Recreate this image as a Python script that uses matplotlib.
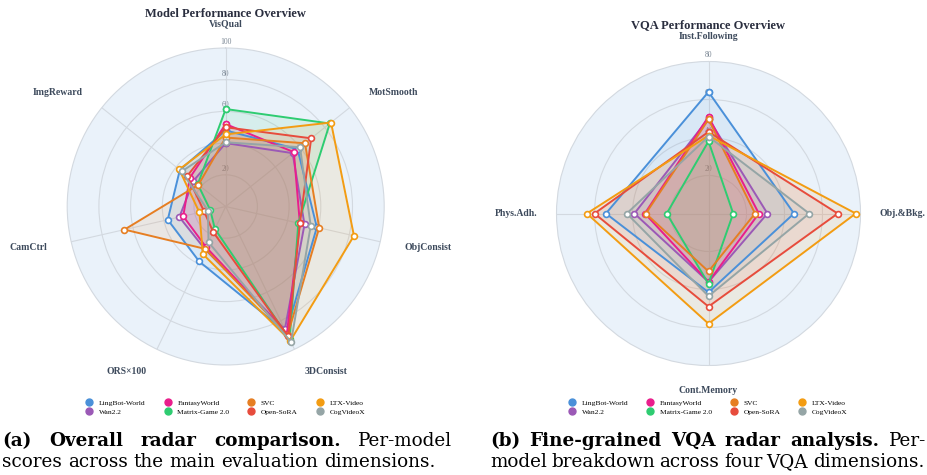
import numpy as np
import matplotlib
matplotlib.use("Agg")
import matplotlib.pyplot as plt
from matplotlib.lines import Line2D

# ---- data ----
models = ["LingBot-World", "Wan2.2", "FantasyWorld", "Matrix-Game 2.0",
          "SVC", "Open-SoRA", "LTX-Video", "CogVideoX"]
colors = ["#4A90D9", "#9B59B6", "#E91E8C", "#2ECC71",
          "#E67E22", "#E74C3C", "#F39C12", "#95A5A6"]

overall_dims = ["VisQual", "MotSmooth", "ObjConsist", "3DConsist",
                "ORS×100", "CamCtrl", "ImgReward"]
lingbot_overall = [48, 58, 59, 88, 38.5, 37.5, 37]
wan_overall = [40, 54, 51, 86, 30, 30, 26]
fantasy_overall = [52, 55, 48, 89, 28.5, 27.5, 29]
matrix_overall = [61.5, 84, 47, 93, 15.7, 10, 22.5]
svc_overall = [43.5, 64, 60.5, 90, 29.7, 65.5, 22]
opensora_overall = [50, 69, 48, 91, 18, 14, 31]
ltx_overall = [45.5, 85, 83, 94, 33.3, 17, 37.5]
cog_overall = [40.5, 60, 55, 95, 25, 11.5, 35.5]

vqa_dims = ["Inst.Following", "Obj.&Bkg.", "Cont.Memory", "Phys.Adh."]
lingbot_vqa = [64, 45, 41.5, 54]
wan_vqa = [50, 31, 36, 39]
fantasy_vqa = [51, 26.5, 36, 33.5]
matrix_vqa = [38, 13, 37, 22]
svc_vqa = [49.5, 24.5, 30.5, 33]
opensora_vqa = [43, 68, 49, 60]
ltx_vqa = [41, 77.5, 58, 64]
cog_vqa = [40.5, 53, 43.5, 43]

overall = [lingbot_overall, wan_overall, fantasy_overall, matrix_overall,
           svc_overall, opensora_overall, ltx_overall, cog_overall]
vqa = [lingbot_vqa, wan_vqa, fantasy_vqa, matrix_vqa,
       svc_vqa, opensora_vqa, ltx_vqa, cog_vqa]

W, H = 928, 475
fig = plt.figure(figsize=(W / 100, H / 100), dpi=100)
fig.patch.set_facecolor("white")

SERIF = ["Liberation Serif", "DejaVu Serif"]
BG = "#EAF2FA"
GRID = "#D3D9E0"


def radar(cx, cy, rad, dims, data, rmax, ticks, label_r, vert_extra, title, title_y):
    ax = fig.add_axes([(cx - rad) / W, (H - cy - rad) / H, 2 * rad / W, 2 * rad / H],
                      projection="polar")
    ax.set_theta_zero_location("N")
    ax.set_theta_direction(-1)
    ax.set_facecolor(BG)
    n = len(dims)
    th = np.linspace(0, 2 * np.pi, n, endpoint=False)
    ax.set_ylim(0, rmax)
    ax.set_xticks(th)
    ax.set_xticklabels([])
    ax.set_yticks([t for t in ticks if t < rmax])
    ax.set_yticklabels([])
    ax.grid(color=GRID, lw=0.8)
    ax.spines["polar"].set_color(GRID)
    ax.spines["polar"].set_linewidth(0.8)
    ax.tick_params(length=0)

    for t in ticks:
        ax.annotate(str(t), (0, t), xytext=(0, 1.5), textcoords="offset points",
                    ha="center", va="bottom", fontsize=5.5, color="#7B8794",
                    family=SERIF, zorder=1)

    tc = np.append(th, th[0])
    for vals, c in zip(data, colors):
        v = np.append(vals, vals[0])
        ax.fill(tc, v, color=c, alpha=0.1, lw=0, zorder=2)
    for vals, c in zip(data, colors):
        v = np.append(vals, vals[0])
        ax.plot(tc, v, color=c, lw=1.4, marker="o", ms=4.2, mfc="white",
                mec=c, mew=1.2, zorder=3, clip_on=False)

    for a, name in zip(th, dims):
        s, co = np.sin(a), np.cos(a)
        ha = "left" if s > 0.1 else ("right" if s < -0.1 else "center")
        r = label_r + (vert_extra if abs(s) < 0.1 else 0)
        ax.text(0.5 + r * s, 0.5 + r * co, name, transform=ax.transAxes,
                ha=ha, va="center", fontsize=7, fontweight="bold",
                color="#3D4A5C", family=SERIF)

    fig.text(cx / W, 1 - title_y / H, title, ha="center", va="center",
             fontsize=9, fontweight="bold", color="#2A2E3F", family=SERIF)

    handles = [Line2D([], [], ls="", marker="o", ms=5, color=c) for c in colors]
    ax.legend(handles, models, ncol=4, loc="upper center",
              bbox_to_anchor=(cx / W, 1 - 396 / H), bbox_transform=fig.transFigure,
              frameon=False, prop={"family": SERIF, "size": 5.4},
              handlelength=0.8, handletextpad=0.9, columnspacing=2.5,
              labelspacing=0.35, borderpad=0)
    return ax


radar(225.7, 206.5, 158.5, overall_dims, overall, 100, [20, 40, 60, 80, 100],
      0.577, 0.0, "Model Performance Overview", 14)
radar(708.5, 213.5, 152, vqa_dims, vqa, 80, [20, 40, 60, 80],
      0.563, 0.018, "VQA Performance Overview", 25)

# ---- captions (justified like the LaTeX subcaptions) ----
renderer = fig.canvas.get_renderer()
CAP = ["DejaVu Serif"]
CAP_SIZE = 13.2


def caption_line(words, y, x0, x1, justify=True):
    texts = []
    for w, bold in words:
        t = fig.text(0, 1 - y / H, w, fontsize=CAP_SIZE, family=CAP,
                     fontweight="bold" if bold else "normal", va="center", ha="left")
        texts.append(t)
    widths = [t.get_window_extent(renderer).width for t in texts]
    if justify and len(words) > 1:
        gap = (x1 - x0 - sum(widths)) / (len(words) - 1)
    else:
        sp = fig.text(0, 0, "a a", fontsize=CAP_SIZE, family=CAP)
        sp2 = fig.text(0, 0, "aa", fontsize=CAP_SIZE, family=CAP)
        gap = sp.get_window_extent(renderer).width - sp2.get_window_extent(renderer).width
        sp.remove()
        sp2.remove()
    x = x0
    for t, wd in zip(texts, widths):
        t.set_x(x / W)
        x += wd + gap


caption_line([("(a)", 1), ("Overall", 1), ("radar", 1), ("comparison.", 1),
              ("Per-model", 0)], 441, 2, 452)
caption_line([(w, 0) for w in "scores across the main evaluation dimensions.".split()],
             462, 2, 433, justify=False)
caption_line([("(b)", 1), ("Fine-grained", 1), ("VQA", 1), ("radar", 1),
              ("analysis.", 1), ("Per-", 0)], 441, 490, 926)
caption_line([(w, 0) for w in "model breakdown across four VQA dimensions.".split()],
             462, 490, 924)

fig.savefig("out.png", dpi=100)
